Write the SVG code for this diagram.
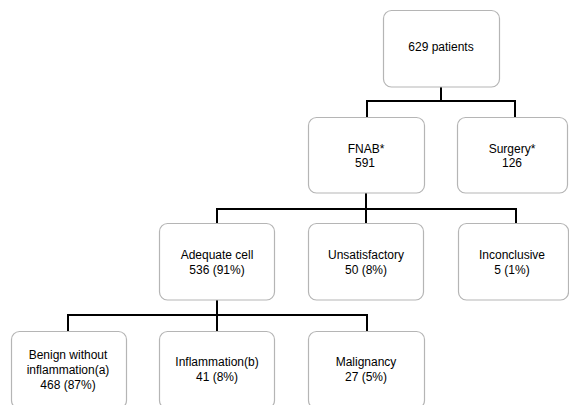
<svg xmlns="http://www.w3.org/2000/svg" width="569" height="405" viewBox="0 0 569 405">
<style>
.box{fill:#ffffff;stroke:#b5b5b5;stroke-width:1.2}
.t{font-family:"Liberation Sans",Arial,sans-serif;font-size:12px;fill:#000;text-anchor:middle}
.c{fill:none;stroke:#000;stroke-width:2}
</style>
<rect width="569" height="405" fill="#ffffff"/>
<g id="connectors">
<path class="c" d="M441 87V101M367 101H515M367 100V117M515 100V117"/>
<path class="c" d="M366 193V209M217 209H516M217 208V223M366 208V223M516 208V223"/>
<path class="c" d="M217 300V315M68 315H367M68 314V331M217 314V331M367 314V331"/>
</g>
<g id="n-patients"><rect class="box" x="383.5" y="10.5" width="116" height="76.5" rx="8"/><text class="t" x="441" y="51">629 patients</text></g>
<g id="n-fnab"><rect class="box" x="308.5" y="117.5" width="116" height="75.5" rx="8"/><text class="t" x="366" y="153">FNAB*</text><text class="t" x="365" y="167">591</text></g>
<g id="n-surgery"><rect class="box" x="457.5" y="117.5" width="110" height="75.5" rx="8"/><text class="t" x="512" y="153">Surgery*</text><text class="t" x="512" y="167">126</text></g>
<g id="n-adequate"><rect class="box" x="159.5" y="223.5" width="115" height="76.5" rx="8"/><text class="t" x="217" y="259">Adequate cell</text><text class="t" x="217" y="274">536 (91%)</text></g>
<g id="n-unsat"><rect class="box" x="308.5" y="223.5" width="115" height="76.5" rx="8"/><text class="t" x="366" y="259">Unsatisfactory</text><text class="t" x="366" y="274">50 (8%)</text></g>
<g id="n-inconclusive"><rect class="box" x="458.5" y="223.5" width="110" height="76.5" rx="8"/><text class="t" x="512" y="259">Inconclusive</text><text class="t" x="512" y="274">5 (1%)</text></g>
<g id="n-benign"><rect class="box" x="11.5" y="331.5" width="115" height="77" rx="8"/><text class="t" x="68" y="359">Benign without</text><text class="t" x="68" y="374">inflammation(a)</text><text class="t" x="68" y="389">468 (87%)</text></g>
<g id="n-inflammation"><rect class="box" x="159.5" y="331.5" width="115" height="77" rx="8"/><text class="t" x="217" y="366">Inflammation(b)</text><text class="t" x="217" y="381">41 (8%)</text></g>
<g id="n-malignancy"><rect class="box" x="308.5" y="331.5" width="116" height="77" rx="8"/><text class="t" x="366" y="366">Malignancy</text><text class="t" x="366" y="381">27 (5%)</text></g>
</svg>
